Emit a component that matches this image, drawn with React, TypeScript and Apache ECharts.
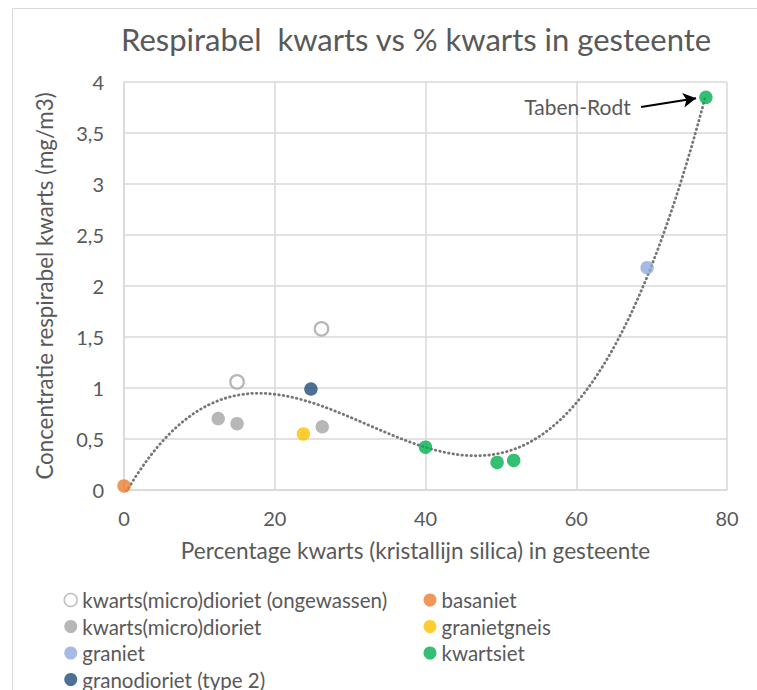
import React, { useEffect, useRef } from "react";
import * as echarts from "echarts";

const FONT = "Lato, 'Liberation Sans', sans-serif";

const title = "Respirabel  kwarts vs % kwarts in gesteente";
const xAxisName = "Percentage kwarts (kristallijn silica) in gesteente";
const yAxisName = "Concentratie respirabel kwarts (mg/m3)";

const openDiorietData: [number, number][] = [[15, 1.06], [26.2, 1.58]];
const basanietData: [number, number][] = [[0, 0.04]];
const diorietData: [number, number][] = [[12.5, 0.70], [15, 0.65], [26.3, 0.62]];
const granietgneisData: [number, number][] = [[23.8, 0.55]];
const granietData: [number, number][] = [[69.4, 2.18]];
const kwartsietData: [number, number][] = [[40, 0.42], [49.5, 0.27], [51.7, 0.29], [77.2, 3.85]];
const granodiorietData: [number, number][] = [[24.8, 0.99]];

const annotationText = "Taben-Rodt";
const annotationAnchor: [number, number] = [67.3, 3.755];
const arrowFrom: [number, number] = [68.6, 3.755];
const arrowTo: [number, number] = [75.9, 3.84];

function cubicFit(pts: [number, number][]): number[] {
  const n = 4;
  const A: number[][] = Array.from({ length: n }, () => new Array(n + 1).fill(0));
  for (const [x, y] of pts) {
    for (let i = 0; i < n; i++) {
      for (let j = 0; j < n; j++) A[i][j] += Math.pow(x, i + j);
      A[i][n] += y * Math.pow(x, i);
    }
  }
  for (let c = 0; c < n; c++) {
    let p = c;
    for (let r = c + 1; r < n; r++) if (Math.abs(A[r][c]) > Math.abs(A[p][c])) p = r;
    [A[c], A[p]] = [A[p], A[c]];
    for (let r = 0; r < n; r++) {
      if (r === c) continue;
      const f = A[r][c] / A[c][c];
      for (let k = c; k <= n; k++) A[r][k] -= f * A[c][k];
    }
  }
  return A.map((row, i) => row[n] / A[i][i]);
}

export default function App() {
  const ref = useRef<HTMLDivElement>(null);
  useEffect(() => {
    if (!ref.current) return;
    const chart = echarts.init(ref.current, null, { renderer: "svg" });
    const all = [
      ...openDiorietData, ...basanietData, ...diorietData, ...granietgneisData,
      ...granietData, ...kwartsietData, ...granodiorietData,
    ];
    const coef = cubicFit(all);
    const xs = all.map((p) => p[0]);
    const xmin = Math.min(...xs), xmax = Math.max(...xs);
    const trend: [number, number][] = [];
    const steps = 200;
    for (let i = 0; i <= steps; i++) {
      const x = xmin + ((xmax - xmin) * i) / steps;
      trend.push([x, coef[0] + coef[1] * x + coef[2] * x * x + coef[3] * x * x * x]);
    }
    const text = "#595959";
    const sym = 13.5;
    const scatter = (name: string, data: [number, number][], color: string, extra: any = {}) => ({
      name, type: "scatter", data, symbolSize: sym, z: 5,
      itemStyle: { color, ...extra },
    });
    const legendText = { fontFamily: FONT, fontSize: 20.5, lineHeight: 21, color: text };
    chart.setOption({
      animation: false,
      textStyle: { fontFamily: FONT },
      title: {
        text: title, left: 116, top: 18,
        textStyle: { fontFamily: FONT, fontSize: 31, fontWeight: "normal", color: text },
      },
      grid: { left: 124, right: 30, top: 82, bottom: 200 },
      xAxis: {
        type: "value", min: 0, max: 80, interval: 20,
        name: xAxisName, nameLocation: "middle", nameGap: 49,
        nameTextStyle: { fontFamily: FONT, fontSize: 22.6, color: text, padding: [0, 20, 0, 0] },
        axisLine: { show: true, onZero: false, lineStyle: { color: "#d9d9d9", width: 1.5 } },
        axisTick: { show: false },
        axisLabel: { fontFamily: FONT, fontSize: 20, color: text, margin: 18 },
        splitLine: { show: true, lineStyle: { color: "#d9d9d9", width: 1.5 } },
      },
      yAxis: {
        type: "value", min: 0, max: 4, interval: 0.5,
        name: yAxisName, nameLocation: "middle", nameGap: 69,
        nameTextStyle: { fontFamily: FONT, fontSize: 22.3, color: text },
        axisLine: { show: true, lineStyle: { color: "#d9d9d9", width: 1.5 } },
        axisTick: { show: false },
        axisLabel: {
          fontFamily: FONT, fontSize: 20, color: text, margin: 20,
          formatter: (v: number) => String(v).replace(".", ","),
        },
        splitLine: { show: true, lineStyle: { color: "#d9d9d9", width: 1.5 } },
      },
      legend: [
        {
          orient: "vertical", left: 63.5, top: 589.5, itemGap: 5.5, padding: 0,
          itemWidth: 13, itemHeight: 13, icon: "circle",
          textStyle: legendText,
          data: [
            { name: "kwarts(micro)dioriet (ongewassen)", itemStyle: { color: "#ffffff", borderColor: "#b0b0b0", borderWidth: 1.5 } },
            "kwarts(micro)dioriet", "graniet", "granodioriet (type 2)",
          ],
        },
        {
          orient: "vertical", left: 423.5, top: 589.5, itemGap: 5.5, padding: 0,
          itemWidth: 13, itemHeight: 13, icon: "circle",
          textStyle: legendText,
          data: ["basaniet", "granietgneis", "kwartsiet"],
        },
      ],
      series: [
        {
          name: "trend", type: "line", data: trend, showSymbol: false, smooth: false, z: 3,
          lineStyle: { color: "#767676", width: 2.8, type: [0.5, 4], cap: "round" },
          silent: true,
        },
        scatter("kwarts(micro)dioriet (ongewassen)", openDiorietData, "#ffffff", { borderColor: "#a5a5a5", borderWidth: 2.2 }),
        scatter("basaniet", basanietData, "#ed7d31"),
        scatter("kwarts(micro)dioriet", diorietData, "#a5a5a5"),
        scatter("granietgneis", granietgneisData, "#ffc000"),
        scatter("graniet", granietData, "#8faadc"),
        {
          ...scatter("kwartsiet", kwartsietData, "#00b050"),
          markLine: {
            silent: true, symbol: ["none", "arrow"], symbolSize: [11, 13],
            lineStyle: { color: "#000000", width: 2, type: "solid" },
            label: { show: false },
            data: [[{ coord: arrowFrom }, { coord: arrowTo }]],
          },
          markPoint: {
            silent: true, symbol: "circle", symbolSize: 1,
            itemStyle: { color: "rgba(0,0,0,0)" },
            label: { show: true, formatter: annotationText, position: "left", distance: 0, color: text, fontFamily: FONT, fontSize: 21 },
            data: [{ coord: annotationAnchor }],
          },
        },
        scatter("granodioriet (type 2)", granodiorietData, "#1f4e79"),
      ],
      graphic: [
        {
          type: "rect", shape: { x: 12.5, y: 8.5, width: 800, height: 800 },
          style: { fill: "none", stroke: "#d9d9d9", lineWidth: 1 }, silent: true, z: -1,
        },
      ],
    });
    return () => chart.dispose();
  }, []);
  return <div ref={ref} style={{ position: "fixed", left: 0, top: 0, width: 757, height: 690, background: "#fff" }} />;
}
